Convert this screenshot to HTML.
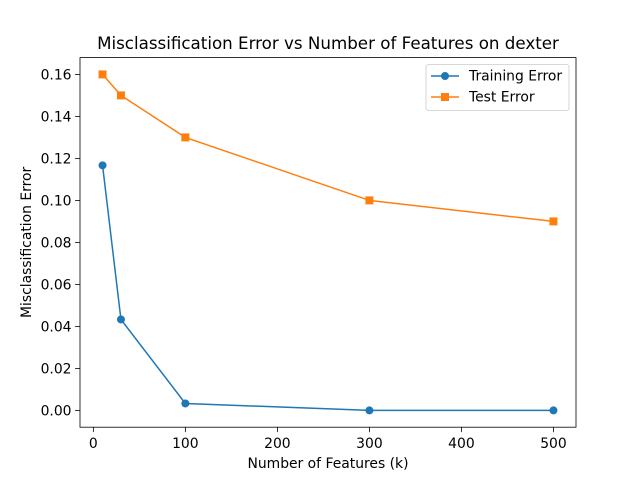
<!DOCTYPE html>
<html><head><meta charset="utf-8"><style>body{margin:0;background:#fff}svg{display:block;font-family:"DejaVu Sans","Liberation Sans",sans-serif}</style></head>
<body>
<svg id="chart" width="640" height="480" viewBox="0 0 640 480" xmlns="http://www.w3.org/2000/svg">
<rect width="640" height="480" fill="#fff"/>
<g id="plot"></g>
</svg>
<script>
const features = [10, 30, 100, 300, 500];
const trainError = [0.1167, 0.0433, 0.0033, 0.0, 0.0];
const testError = [0.16, 0.15, 0.13, 0.10, 0.09];
const xTicks = [0, 100, 200, 300, 400, 500];
const yTicks = [0.00, 0.02, 0.04, 0.06, 0.08, 0.10, 0.12, 0.14, 0.16];

const L = 80, R = 576, T = 57.6, B = 427.2;
const xmin = -14.5, xmax = 524.5, ymin = -0.008, ymax = 0.168;
const sx = v => L + (v - xmin) / (xmax - xmin) * (R - L);
const sy = v => B - (v - ymin) / (ymax - ymin) * (B - T);
const NS = 'http://www.w3.org/2000/svg';
const g = document.getElementById('plot');
function mk(tag, attrs, parent) {
  const e = document.createElementNS(NS, tag);
  for (const k in attrs) e.setAttribute(k, attrs[k]);
  (parent || g).appendChild(e);
  return e;
}
function txt(s, attrs) { const t = mk('text', attrs); t.textContent = s; return t; }

xTicks.forEach(v => {
  const x = sx(v);
  const l = mk('line', {x1: x, x2: x, y1: B, y2: B + 4.9, stroke: '#000', 'stroke-width': 0.8});
  
  
  const t = txt(String(v), {x: x, y: B + 21, 'font-size': 13.9, 'text-anchor': 'middle'});
  
  
});
yTicks.forEach(v => {
  const y = sy(v);
  const l = mk('line', {x1: L - 4.9, x2: L, y1: y, y2: y, stroke: '#000', 'stroke-width': 0.8});
  
  
  const t = txt(v.toFixed(2), {x: L - 8.5, y: y + 5, 'font-size': 13.9, 'text-anchor': 'end'});
  
  
});

function series(vals, color, marker, name) {
  const pts = features.map((f, i) => sx(f) + ',' + sy(vals[i])).join(' ');
  const pl = mk('polyline', {points: pts, fill: 'none', stroke: color, 'stroke-width': 1.5});
  
  
  features.forEach((f, i) => {
    let m;
    if (marker === 'o') m = mk('circle', {cx: sx(f), cy: sy(vals[i]), r: 4, fill: color});
    else m = mk('rect', {x: sx(f) - 4, y: sy(vals[i]) - 4, width: 8, height: 8, fill: color});
    
    
  });
}
series(trainError, '#1f77b4', 'o', 'training-error');
series(testError, '#ff7f0e', 's', 'test-error');

const frame = mk('rect', {x: L, y: T, width: R - L, height: B - T, fill: 'none', stroke: '#000', 'stroke-width': 0.8});



const title = txt('Misclassification Error vs Number of Features on dexter', {x: (L + R) / 2, y: 49, 'font-size': 16.7, 'text-anchor': 'middle'});


const xl = txt('Number of Features (k)', {x: (L + R) / 2, y: 468, 'font-size': 13.9, 'text-anchor': 'middle'});


const yl = txt('Misclassification Error', {x: 0, y: 0, 'font-size': 13.9, 'text-anchor': 'middle', transform: 'translate(31,' + ((T + B) / 2) + ') rotate(-90)'});



const lg = mk('g', {});


mk('rect', {x: 426, y: 64.5, width: 143, height: 46, rx: 2.5, fill: '#fff', 'fill-opacity': 0.8, stroke: '#ccc', 'stroke-width': 0.8}, lg);
const e1 = mk('g', {}, lg);


mk('line', {x1: 431, x2: 459, y1: 76, y2: 76, stroke: '#1f77b4', 'stroke-width': 1.5}, e1);
mk('circle', {cx: 445, cy: 76, r: 4, fill: '#1f77b4'}, e1);
const t1 = mk('text', {x: 469, y: 80.5, 'font-size': 13.9}, e1); t1.textContent = 'Training Error';
const e2 = mk('g', {}, lg);


mk('line', {x1: 431, x2: 459, y1: 97, y2: 97, stroke: '#ff7f0e', 'stroke-width': 1.5}, e2);
mk('rect', {x: 441, y: 93, width: 8, height: 8, fill: '#ff7f0e'}, e2);
const t2 = mk('text', {x: 469, y: 101.5, 'font-size': 13.9}, e2); t2.textContent = 'Test Error';
</script>
</body></html>
